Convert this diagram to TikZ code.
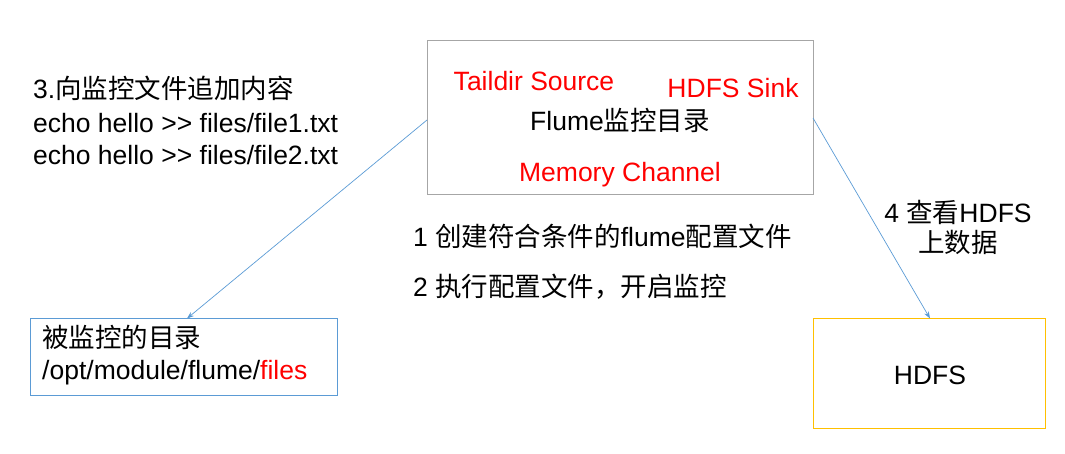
\documentclass[tikz,border=0pt]{standalone}
\usepackage{fontspec}
\setmainfont{Liberation Sans}
\newfontfamily\cjk{Noto Sans CJK SC}
\newcommand{\zh}[1]{{\cjk #1}}
\usetikzlibrary{arrows.meta}
\begin{document}
\begin{tikzpicture}[x=1pt,y=-1pt,
  txt/.style={font=\fontsize{26.5}{30}\selectfont, inner sep=0pt},
  red/.style={txt, text={rgb,255:red,255;green,0;blue,0}},
  conn/.style={draw={rgb,255:red,91;green,155;blue,213}, line width=0.7pt, -{Stealth[length=7pt,width=5pt]}}]
\useasboundingbox (0,0) rectangle (1065,454);
\draw[line width=1pt, draw={rgb,255:red,166;green,166;blue,166}] (427,41) rectangle (813,195);
\coordinate (tl) at (427,120);
\coordinate (tr) at (813,118);
\node[red] (ts) at (534,81) {Taildir Source};
\node[red] (hs) at (733,88) {HDFS Sink};
\node[txt] (fm) at (620,120) {Flume\zh{监控目录}};
\node[red] (mc) at (620,175) {Memory Channel};
\node[txt, anchor=west] (l1) at (33,88) {3.\zh{向监控文件追加内容}};
\node[txt, anchor=west] (l2) at (33,123) {echo hello {>}{>} files/file1.txt};
\node[txt, anchor=west] (l3) at (33,155) {echo hello {>}{>} files/file2.txt};
\node[draw={rgb,255:red,91;green,155;blue,213}, line width=1pt, minimum width=307pt, minimum height=77pt, inner sep=0pt] (blue) at (183.5,356.5) {};
\node[txt, anchor=west] (b1) at (42,337) {\zh{被监控的目录}};
\node[txt, anchor=west] (b2) at (42,373) {/opt/module/flume/\textcolor{red}{files}};
\node[draw={rgb,255:red,255;green,192;blue,0}, line width=1pt, minimum width=232pt, minimum height=110pt, inner sep=0pt] (hdfs) at (929,373) {};
\node[txt] (ht) at (930,375) {HDFS};
\node[txt, anchor=west] (m1) at (413,236) {1 \zh{创建符合条件的}flume\zh{配置文件}};
\node[txt, anchor=west] (m2) at (413,287) {2 \zh{执行配置文件，开启监控}};
\node[txt] (r1) at (958,212) {4 \zh{查看}HDFS};
\node[txt] (r2) at (958,242) {\zh{上数据}};
\draw[conn] (tl) -- (187,318.5);
\draw[conn] (tr) -- (930,318.5);
\end{tikzpicture}
\end{document}
